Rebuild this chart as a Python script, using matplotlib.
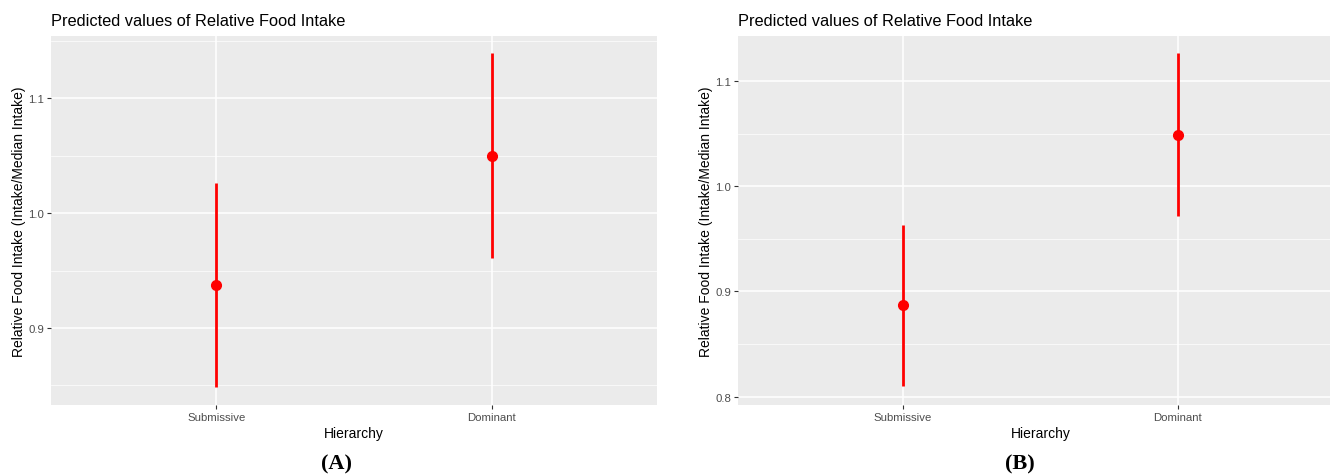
import numpy as np
import matplotlib.pyplot as plt
from matplotlib.ticker import MultipleLocator

# datos
hierarchy = ["Submissive", "Dominant"]
pred_a = [0.937, 1.050]
low_a = [0.849, 0.961]
high_a = [1.026, 1.139]
pred_b = [0.887, 1.049]
low_b = [0.810, 0.972]
high_b = [0.963, 1.127]

plt.rcParams['font.family'] = ['Liberation Sans', 'DejaVu Sans']

fig = plt.figure(figsize=(13.3, 4.77), dpi=100)
W, H = 1330, 477

def panel(rect, pred, low, high, ylim, yticks, letter, letter_x):
    l, t, r, b = rect
    ax = fig.add_axes([l / W, 1 - b / H, (r - l) / W, (b - t) / H])
    ax.set_facecolor('#EBEBEB')
    x = np.arange(1, len(hierarchy) + 1)
    ax.vlines(x, low, high, color='#FF0000', lw=2, zorder=3)
    ax.plot(x, pred, 'o', color='#FF0000', ms=7, zorder=4)
    ax.set_xlim(0.4, 2.6)
    ax.set_ylim(*ylim)
    ax.set_xticks(x)
    ax.set_xticklabels(hierarchy)
    ax.set_yticks(yticks)
    ax.set_yticklabels([f"{v:.1f}" for v in yticks])
    ax.yaxis.set_minor_locator(MultipleLocator(0.05))
    ax.grid(True, which='major', color='white', lw=1.1)
    ax.grid(True, which='minor', axis='y', color='white', lw=0.5)
    ax.set_axisbelow(True)
    for s in ax.spines.values():
        s.set_visible(False)
    ax.tick_params(which='major', length=3, color='#333333', labelcolor='#4D4D4D', labelsize=8.2, pad=2)
    ax.tick_params(which='minor', length=0)
    ax.set_xlabel("Hierarchy", fontsize=10, labelpad=3)
    ax.set_ylabel("Relative Food Intake (Intake/Median Intake)", fontsize=10, labelpad=1.5)
    ax.set_title("Predicted values of Relative Food Intake", fontsize=11.8, loc='left', pad=8)
    fig.text(letter_x / W, 1 - 464 / H, letter, ha='center', va='center',
             fontsize=16, fontweight='bold', family=['Liberation Serif', 'DejaVu Serif'])
    return ax

panel((51, 37, 657, 406), pred_a, low_a, high_a, (0.833, 1.154), [0.9, 1.0, 1.1], "(A)", 336)
panel((738, 37, 1343, 406), pred_b, low_b, high_b, (0.792, 1.143), [0.8, 0.9, 1.0, 1.1], "(B)", 1020)

fig.savefig("out.png", dpi=100)
